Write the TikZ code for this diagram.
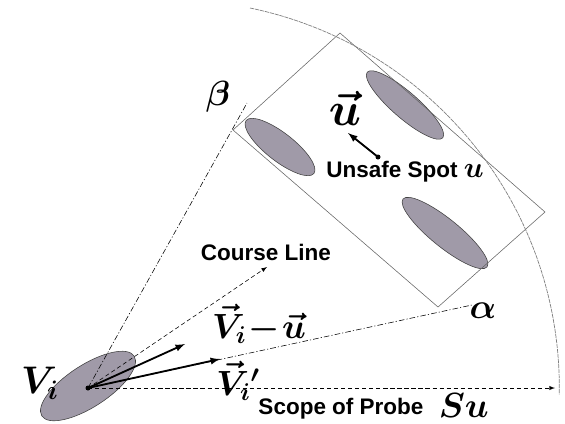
\documentclass[tikz,border=0pt]{standalone}
\usepackage{fontspec}
\setsansfont{Liberation Sans}
\usepackage{amsmath}
\usetikzlibrary{positioning,shapes.geometric}
\definecolor{spotfill}{RGB}{160,154,168}

\begin{document}
\begin{tikzpicture}[>=latex,x=0.025cm,y=-0.025cm,
        spot/.style={draw=black!75,fill=spotfill,ellipse,inner sep=0pt,thin},
        vec/.style={->,line width=1.3pt},
        guide/.style={thin,dash pattern=on 4pt off 1.5pt on 0.8pt off 1.5pt},
        probe/.style={->,thin,densely dashed},
        txt/.style={font=\sffamily\bfseries\fontsize{16}{19}\selectfont,inner sep=1pt},
        sym/.style={font=\fontsize{24}{28}\selectfont\boldmath,inner sep=1pt}]
        \useasboundingbox (0,0) rectangle (565,423);
        \coordinate (O) at (88,388);
        \node[spot,minimum width=2.75cm,minimum height=1.05cm,rotate=33] (veh) at (88,386) {};
        % unsafe area
        \node[spot,minimum width=2.15cm,minimum height=0.7cm,rotate=-38] (s1) at (280,147) {};
        \node[spot,minimum width=2.5cm,minimum height=0.65cm,rotate=-41] (s2) at (405,105) {};
        \node[spot,minimum width=2.7cm,minimum height=0.7cm,rotate=-39] (s3) at (445,233) {};
        \coordinate (za) at (233,130);
        \coordinate (zb) at (340,33);
        \coordinate (zc) at (545,212);
        \coordinate (zd) at (438,307);
        \draw[black!60,thin] (za) -- (zb) -- (zc) -- (zd) -- cycle;
        % scope of probe
        \coordinate (arcstart) at (250,8);
        \draw[gray,line width=0.5pt,dash pattern=on 3pt off 0.6pt] (arcstart) arc[start angle=-78.3,end angle=1,radius=388];
        \coordinate (lb) at (247,103);
        \coordinate (la) at (472,305);
        \draw[guide] (O) -- (lb);
        \draw[guide] (O) -- (la);
        \coordinate (course) at (267,267);
        \coordinate (scope) at (555,388);
        \draw[probe] (O) -- (course);
        \draw[probe] (O) -- (scope);
        \coordinate (vu) at (185,344);
        \coordinate (vp) at (220,359);
        \draw[vec] (O) -- (vu);
        \draw[vec] (O) -- (vp);
        \fill (O) circle (2.5);
        \coordinate (u) at (378,157);
        \coordinate (ua) at (348,133);
        \draw[vec] (u) -- (ua);
        \fill (u) circle (2.5);
        % labels
        \node[sym] (tbeta) at (218,97) {$\beta$};
        \node[sym] (talpha) at (483,311) {$\alpha$};
        \node[sym] (tveh) at (40,383) {\scalebox{1.1}{$V_i$}};
        \node[sym] (tvu) at (259,324) {$\vec{V}_i\!-\!\vec{u}$};
        \node[sym] (tvp) at (238,381) {$\vec{V}_i{}'$};
        \node[sym] (tu) at (345,108) {\scalebox{1.35}{$\vec{u}$}};
        \node[txt] (tcourse) at (266,252) {Course Line};
        \node[txt] (tspot) at (405,172) {Unsafe Spot {\fontsize{21}{24}\selectfont\boldmath$u$}};
        \node[txt] (tscope) at (341,409) {Scope of Probe};
        \node[sym,right=0.3cm of tscope,yshift=0.1cm] (tsu) {$Su$};
    \end{tikzpicture}
\end{document}
